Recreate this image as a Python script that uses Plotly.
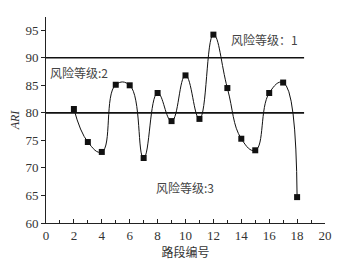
import plotly.graph_objects as go

segments = [2, 3, 4, 5, 6, 7, 8, 9, 10, 11, 12, 13, 14, 15, 16, 17, 18]
ari = [80.7, 74.7, 72.9, 85.1, 85.0, 71.8, 83.6, 78.5, 86.8, 78.9, 94.2, 84.5, 75.3, 73.2, 83.6, 85.5, 64.7]
thresholds = [80, 90]
x_ticks = [0, 2, 4, 6, 8, 10, 12, 14, 16, 18, 20]
y_ticks = [60, 65, 70, 75, 80, 85, 90, 95]

serif = "Liberation Serif, Times New Roman, serif"
cjk = "Noto Sans CJK SC, sans-serif"
ink = "#222222"

fig = go.Figure()
for t in thresholds:
    fig.add_trace(go.Scatter(x=[0, 18.5], y=[t, t], mode="lines",
                             line=dict(color="#111111", width=1.6),
                             hoverinfo="skip", showlegend=False))
fig.add_trace(go.Scatter(x=segments, y=ari, mode="lines+markers",
                         line=dict(color="#111111", width=1, shape="spline", smoothing=1.3),
                         marker=dict(symbol="square", size=6, color="#111111"),
                         showlegend=False))

fig.add_annotation(x=13.1, y=93.3, text="风险等级：1", showarrow=False, xanchor="left",
                   font=dict(family=cjk, size=12, color="#444444"))
fig.add_annotation(x=0.15, y=87.3, text="风险等级:2", showarrow=False, xanchor="left",
                   font=dict(family=cjk, size=12, color="#444444"))
fig.add_annotation(x=7.75, y=66.5, text="风险等级:3", showarrow=False, xanchor="left",
                   font=dict(family=cjk, size=12, color="#444444"))

fig.update_layout(
    width=350, height=265,
    margin=dict(l=38, r=33, t=9, b=50),
    paper_bgcolor="white", plot_bgcolor="white",
    xaxis=dict(range=[0, 20], tickvals=x_ticks, ticks="inside", ticklen=4, tickcolor=ink,
               showline=True, linecolor=ink, linewidth=1, showgrid=False, zeroline=False,
               automargin=False,
               minor=dict(dtick=1, ticks="inside", ticklen=3, tickcolor=ink),
               tickfont=dict(family=serif, size=13, color="#333333"),
               title=dict(text="路段编号", font=dict(family=cjk, size=12, color="#333333"), standoff=4)),
    yaxis=dict(range=[60, 97.4], tickvals=y_ticks, ticks="outside", ticklen=4, tickcolor=ink,
               showline=True, linecolor=ink, linewidth=1, showgrid=False, zeroline=False,
               automargin=False,
               tickfont=dict(family=serif, size=13, color="#333333"),
               title=dict(text="<i>ARI</i>", font=dict(family=serif, size=12, color="#333333"), standoff=6)),
)
fig.write_html("out.html")
